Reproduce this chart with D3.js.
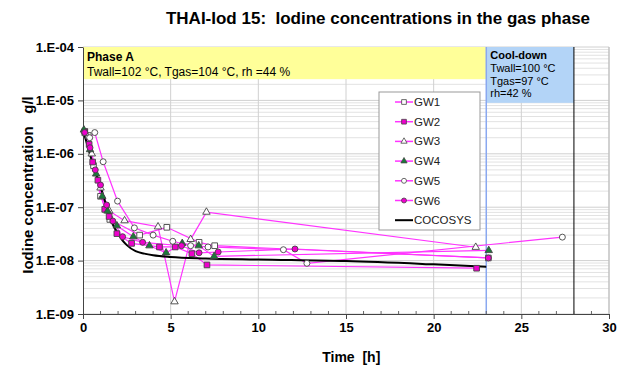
<!DOCTYPE html>
<html>
<head>
<meta charset="utf-8">
<script src="https://cdn.jsdelivr.net/npm/d3@7"></script>
<style>
  body { margin: 0; background: #fff; }
  svg text { font-family: "Liberation Sans", Arial, sans-serif; white-space: pre; }
</style>
</head>
<body>
<div id="chart"></div>
<script>
// series data: [time h, concentration g/l]
const gw1 = [[0.1, 2.6e-6], [0.3, 2.2e-6], [0.6, 6e-7], [1.0, 1.6e-7], [1.53, 5.9e-8], [3.23, 3.0e-8], [4.78, 4.2e-8], [6.62, 2.2e-8], [7.51, 1.9e-8], [23.12, 1.12e-8]];
const gw2 = [[0.1, 2.6e-6], [0.35, 1.5e-6], [0.55, 7e-7], [0.85, 3.2e-7], [1.24, 9.1e-8], [1.49, 6.7e-8], [1.93, 3.2e-8], [2.77, 2.1e-8], [4.36, 1.8e-8], [5.26, 1.8e-8], [6.21, 1.35e-8], [7.07, 8.3e-9], [22.45, 7.2e-9]];
const gw3 = [[0.15, 2.4e-6], [0.5, 1.0e-6], [1.0, 2.3e-7], [1.5, 8.5e-8], [2.37, 5.6e-8], [4.28, 4.3e-8], [5.22, 1.7e-9], [6.14, 2.5e-8], [7.04, 8.1e-8], [22.4, 1.78e-8]];
const gw4 = [[0.05, 2.8e-6], [0.4, 1.2e-6], [0.75, 4.2e-7], [1.1, 1.6e-7], [1.4, 8.5e-8], [1.93, 4.5e-8], [2.87, 2.8e-8], [3.79, 1.9e-8], [4.74, 1.4e-8], [5.66, 2.1e-8], [6.6, 1.9e-8], [7.48, 1.2e-8], [23.14, 1.55e-8]];
const gw5 = [[0.38, 2.0e-6], [0.67, 2.5e-6], [1.15, 7.1e-7], [1.97, 1.3e-7], [2.93, 4.1e-8], [4.0, 3.0e-8], [5.12, 2.3e-8], [6.14, 1.9e-8], [7.13, 1.8e-8], [11.43, 1.6e-8], [12.77, 8.9e-9], [27.34, 2.75e-8]];
const gw6 = [[0.1, 2.5e-6], [0.4, 1.3e-6], [0.7, 5e-7], [1.0, 2.6e-7], [1.35, 1.1e-7], [1.7, 5.5e-8], [2.26, 2.8e-8], [3.4, 2.2e-8], [5.62, 1.9e-8], [6.62, 1.4e-8], [7.71, 1.45e-8], [12.09, 1.65e-8], [23.12, 1.12e-8]];
const cocosys = [[0, 2.8e-6], [0.25, 1.45e-6], [0.5, 7.5e-7], [0.75, 4.2e-7], [1.0, 2.4e-7], [1.25, 1.3e-7], [1.5, 6.8e-8], [1.75, 4.4e-8], [2.0, 3.2e-8], [2.25, 2.4e-8], [2.5, 1.95e-8], [3.0, 1.5e-8], [3.5, 1.35e-8], [4.0, 1.26e-8], [5.0, 1.17e-8], [7.0, 1.1e-8], [10.0, 1.05e-8], [15.0, 9.8e-9], [20.0, 8.5e-9], [23.0, 7.7e-9]];

const seriesNames = ["GW1", "GW2", "GW3", "GW4", "GW5", "GW6"];
const xTicks = [0, 5, 10, 15, 20, 25, 30];
const yTicks = [1e-4, 1e-5, 1e-6, 1e-7, 1e-8, 1e-9];
const yTickLabels = ["1.E-04", "1.E-05", "1.E-06", "1.E-07", "1.E-08", "1.E-09"];
// phase boxes: [t0, t1, lower concentration edge]
const phaseA = [0, 23, 2.5e-5];
const coolDown = [23, 28, 9e-6];

const W = 627, H = 367;
const margin = { top: 47, right: 18, bottom: 53, left: 83 };
const width = W - margin.left - margin.right;
const height = H - margin.top - margin.bottom;

const svg = d3.select("#chart").append("svg")
  .attr("width", W).attr("height", H);

const x = d3.scaleLinear().domain([0, 30]).range([0, width]);
const y = d3.scaleLog().domain([1e-9, 1e-4]).range([height, 0]);

const g = svg.append("g")
  .attr("transform", `translate(${margin.left},${margin.top})`);

// minor horizontal grid
const minor = [];
for (let e = -9; e < -4; e++) {
  for (let m = 2; m <= 9; m++) minor.push(m * Math.pow(10, e));
}
g.append("g").selectAll("line").data(minor).join("line")
  .attr("x1", 0).attr("x2", width)
  .attr("y1", d => y(d)).attr("y2", d => y(d))
  .attr("stroke", "#e2e2e2").attr("stroke-width", 1);
g.append("g").selectAll("line").data(yTicks).join("line")
  .attr("x1", 0).attr("x2", width)
  .attr("y1", d => y(d)).attr("y2", d => y(d))
  .attr("stroke", "#d0d0d0").attr("stroke-width", 1);
g.append("g").selectAll("line").data(xTicks.slice(1)).join("line")
  .attr("x1", d => x(d)).attr("x2", d => x(d))
  .attr("y1", 0).attr("y2", height)
  .attr("stroke", "#d0d0d0").attr("stroke-width", 1);

// boxes
g.append("rect")
  .attr("x", x(phaseA[0])).attr("y", y(1e-4))
  .attr("width", x(phaseA[1]) - x(phaseA[0]))
  .attr("height", y(phaseA[2]) - y(1e-4))
  .attr("fill", "#ffff99");
g.append("rect")
  .attr("x", x(coolDown[0])).attr("y", y(1e-4))
  .attr("width", x(coolDown[1]) - x(coolDown[0]))
  .attr("height", y(coolDown[2]) - y(1e-4))
  .attr("fill", "#b3d4f7");

// phase lines
g.append("line")
  .attr("x1", x(23)).attr("x2", x(23)).attr("y1", 0).attr("y2", height)
  .attr("stroke", "#8aa8f0").attr("stroke-width", 1.5);
g.append("line")
  .attr("x1", x(28)).attr("x2", x(28)).attr("y1", 0).attr("y2", height)
  .attr("stroke", "#000").attr("stroke-width", 1);

const boxText = g.append("g").attr("fill", "#000");
boxText.append("text").attr("x", 4).attr("y", 14).attr("font-size", 12)
  .attr("font-weight", "bold").text("Phase A");
boxText.append("text").attr("x", 4).attr("y", 29).attr("font-size", 12)
  .text("Twall=102 °C, Tgas=104 °C, rh =44 %");
const cx0 = x(23) + 4;
boxText.append("text").attr("x", cx0).attr("y", 12).attr("font-size", 11)
  .attr("font-weight", "bold").text("Cool-down");
[["Twall=100 °C", 25], ["Tgas=97 °C", 37.5], ["rh=42 %", 50]].forEach(([t, yy]) => {
  boxText.append("text").attr("x", cx0).attr("y", yy).attr("font-size", 11).text(t);
});

// axes
const xAxis = g.append("g").attr("transform", `translate(0,${height})`)
  .call(d3.axisBottom(x).tickValues(xTicks).tickSize(5).tickSizeOuter(0).tickPadding(4));
xAxis.select(".domain").attr("stroke", "#444");
xAxis.selectAll(".tick line").attr("stroke", "#444");
xAxis.selectAll("text").attr("font-size", 13).attr("font-weight", "bold")
  .attr("font-family", "Liberation Sans, Arial, sans-serif").attr("fill", "#000");
g.append("g").selectAll("line").data(d3.range(1, 30).filter(d => d % 5 !== 0)).join("line")
  .attr("x1", d => x(d)).attr("x2", d => x(d))
  .attr("y1", height).attr("y2", height - 3)
  .attr("stroke", "#666");

const yAxis = g.append("g")
  .call(d3.axisLeft(y).tickValues(yTicks).tickFormat((d, i) => yTickLabels[i])
    .tickSize(5).tickSizeOuter(0).tickPadding(4));
yAxis.select(".domain").attr("stroke", "#444");
yAxis.selectAll(".tick line").attr("stroke", "#444");
yAxis.selectAll("text").attr("font-size", 13).attr("font-weight", "bold")
  .attr("font-family", "Liberation Sans, Arial, sans-serif").attr("fill", "#000");

// right border
g.append("line").attr("x1", width).attr("x2", width).attr("y1", 0).attr("y2", height)
  .attr("stroke", "#bbb");

// series
const line = d3.line().x(d => x(d[0])).y(d => y(d[1]));
const allSeries = [gw1, gw2, gw3, gw4, gw5, gw6];
const markers = [
  { shape: d3.symbolSquare, size: 32, fill: "#fff" },
  { shape: d3.symbolSquare, size: 32, fill: "#ee00cc" },
  { shape: d3.symbolTriangle, size: 24, fill: "#fff" },
  { shape: d3.symbolTriangle, size: 24, fill: "#1a7a3a" },
  { shape: d3.symbolCircle, size: 28, fill: "#fff" },
  { shape: d3.symbolCircle, size: 28, fill: "#ee00cc" }
];

allSeries.forEach(s => {
  g.append("path").datum(s).attr("d", line)
    .attr("fill", "none").attr("stroke", "#ff33ff").attr("stroke-width", 1.2);
});
g.append("path").datum(cocosys).attr("d", d3.line().x(d => x(d[0])).y(d => y(d[1])).curve(d3.curveMonotoneX))
  .attr("fill", "none").attr("stroke", "#000").attr("stroke-width", 2);

allSeries.forEach((s, i) => {
  const m = markers[i];
  g.append("g").selectAll("path").data(s).join("path")
    .attr("transform", d => `translate(${x(d[0])},${y(d[1])})`)
    .attr("d", d3.symbol().type(m.shape).size(m.size))
    .attr("fill", m.fill).attr("stroke", "#444").attr("stroke-width", 0.9);
});

// legend
const legend = svg.append("g").attr("transform", "translate(379,92)");
legend.append("rect").attr("width", 101).attr("height", 138)
  .attr("fill", "#fff").attr("stroke", "#999");
seriesNames.concat(["COCOSYS"]).forEach((name, i) => {
  const ly = 10 + i * 19.7;
  const row = legend.append("g").attr("transform", `translate(0,${ly})`);
  if (i < 6) {
    row.append("line").attr("x1", 16).attr("x2", 34)
      .attr("stroke", "#ff33ff").attr("stroke-width", 1.5);
    const m = markers[i];
    row.append("path").attr("transform", "translate(25,0)")
      .attr("d", d3.symbol().type(m.shape).size(m.size * 0.7))
      .attr("fill", m.fill).attr("stroke", "#444").attr("stroke-width", 0.8);
  } else {
    row.append("line").attr("x1", 16).attr("x2", 34)
      .attr("stroke", "#000").attr("stroke-width", 2);
  }
  row.append("text").attr("x", 35).attr("y", 4)
    .attr("font-size", 11.5).attr("fill", "#222").text(name);
});

// titles
svg.append("text").attr("x", 378).attr("y", 24)
  .attr("text-anchor", "middle").attr("font-size", 17).attr("font-weight", "bold")
  .text("THAI-Iod 15:  Iodine concentrations in the gas phase");
svg.append("text").attr("x", margin.left + x(15.3)).attr("y", 362)
  .attr("text-anchor", "middle").attr("font-size", 14).attr("font-weight", "bold")
  .text("Time  [h]");
svg.append("text")
  .attr("transform", "translate(27,185) rotate(-90)")
  .attr("text-anchor", "middle").attr("dominant-baseline", "central")
  .attr("font-size", 15).attr("font-weight", "bold")
  .text("Iodine concentration   g/l");
</script>
</body>
</html>
